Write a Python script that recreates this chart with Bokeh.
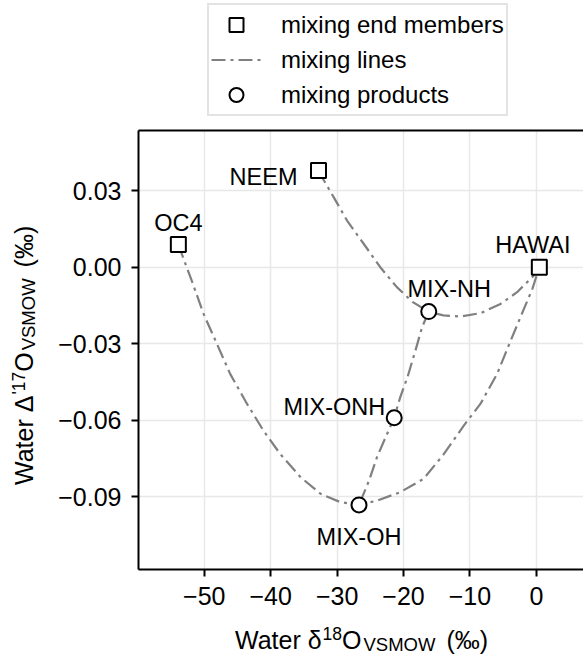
from bokeh.plotting import figure
from bokeh.models import (Range1d, FixedTicker, LinearAxis, Legend, LegendItem, Div)
from bokeh.layouts import row, column
from bokeh.core.properties import value
from bokeh.embed import file_html
from bokeh.resources import INLINE

FONT = "Liberation Sans"

# ---------------- data ----------------
end_names = ["OC4", "NEEM", "HAWAI"]
end_d18O = [-53.9, -32.8, 0.45]
end_D17O = [0.0089, 0.0379, 0.0]

mix_names = ["MIX-NH", "MIX-ONH", "MIX-OH"]
mix_d18O = [-16.2, -21.4, -26.7]
mix_D17O = [-0.0174, -0.0590, -0.0932]

# mixing line NEEM -> HAWAI (through MIX-NH)
line_nh_x = [-32.8, -32.0, -30.5, -28.5, -26.0, -23.5, -21.0, -18.6, -16.2,
             -14.0, -11.4, -8.4, -5.4, -2.9, -0.4, 0.45]
line_nh_y = [0.0379, 0.0341, 0.0274, 0.0183, 0.0092, 0.0, -0.0078, -0.0137, -0.0174,
             -0.0189, -0.0193, -0.0180, -0.0144, -0.0098, -0.0033, 0.0]

# mixing line OC4 -> HAWAI (through MIX-OH)
line_oh_x = [-53.9, -53.4, -51.9, -50.1, -48.1, -46.1, -43.6, -41.1, -38.6, -35.5,
             -32.5, -29.5, -26.7, -24.0, -20.5, -17.0, -14.0, -10.9, -8.4, -5.9,
             -3.9, -1.9, -0.6, 0.45]
line_oh_y = [0.0089, 0.0053, -0.0052, -0.0183, -0.0300, -0.0418, -0.0534, -0.0640,
             -0.0731, -0.0823, -0.0888, -0.0921, -0.0932, -0.0915, -0.0882, -0.0830,
             -0.0735, -0.0620, -0.0535, -0.0418, -0.0290, -0.0165, -0.0085, 0.0]

# mixing line MIX-NH -> MIX-OH (through MIX-ONH)
line_onh_x = [-16.2, -17.2, -18.2, -19.4, -20.5, -21.4, -22.7, -24.0, -25.2, -26.7]
line_onh_y = [-0.0174, -0.0235, -0.0326, -0.0431, -0.0510, -0.0590, -0.0667, -0.0745,
              -0.0837, -0.0932]

x_ticks = [-50, -40, -30, -20, -10, 0]
x_tick_labels = ["\u221250", "\u221240", "\u221230", "\u221220", "\u221210", "0"]
y_ticks = [0.03, 0, -0.03, -0.06, -0.09]
y_tick_labels = ["0.03", "0.00", "\u22120.03", "\u22120.06", "\u22120.09"]

legend_labels = ["mixing end members", "mixing lines", "mixing products"]

x_title = ("Water \u03b4", "18", "O", "VSMOW", "(\u2030)")
y_title = ("Water \u0394", "'17", "O", "VSMOW", "(\u2030)")

# ---------------- geometry ----------------
W, H = 583, 654
YLAB_W = 44          # width of the y-title strip
LEG_H = 128          # height of the legend strip on top
XLAB_H = 40          # height of the x-title strip at the bottom
FIG_H = H - LEG_H - XLAB_H

line_kw = dict(line_color="#808080", line_width=2.2, line_dash="14 5 3 5")
sq_kw = dict(marker="square", size=15, fill_color="white", line_color="black", line_width=2)
ci_kw = dict(marker="circle", size=15, fill_color="white", line_color="black", line_width=2)

# ---------------- main figure ----------------
p = figure(width=W - YLAB_W, height=FIG_H, output_backend="svg", toolbar_location=None,
           x_range=Range1d(-59.9, 7.1), y_range=Range1d(-0.1185, 0.0536),
           min_border_left=138 - YLAB_W, min_border_right=0, min_border_top=2,
           min_border_bottom=45, background_fill_color="white",
           border_fill_color="white", margin=0)
p.outline_line_color = None

for ax, ticks, labels in ((p.xaxis[0], x_ticks, x_tick_labels),
                          (p.yaxis[0], y_ticks, y_tick_labels)):
    ax.ticker = FixedTicker(ticks=ticks)
    ax.major_label_overrides = {t: l for t, l in zip(ticks, labels)}
    ax.axis_line_width = 2
    ax.axis_line_color = "black"
    ax.major_tick_line_width = 2
    ax.major_tick_line_color = "black"
    ax.major_tick_out = 7
    ax.major_tick_in = 0
    ax.minor_tick_line_color = None
    ax.major_label_text_font = FONT
    ax.major_label_text_font_size = "25px"
    ax.major_label_text_color = "black"
    ax.axis_label = None
p.xaxis[0].major_label_standoff = 10
p.yaxis[0].major_label_standoff = 10

top_axis = LinearAxis(ticker=FixedTicker(ticks=[]), axis_line_width=2,
                      axis_line_color="black", major_tick_line_color=None,
                      minor_tick_line_color=None, major_tick_out=0, major_tick_in=0,
                      major_label_standoff=0, major_label_text_font_size="0px")
p.add_layout(top_axis, "above")

p.xgrid.ticker = FixedTicker(ticks=x_ticks)
p.ygrid.ticker = FixedTicker(ticks=y_ticks)
for g in (p.xgrid[0], p.ygrid[0]):
    g.grid_line_color = "#e8e8e8"
    g.grid_line_width = 1.5

# mixing lines
p.line(line_nh_x, line_nh_y, **line_kw)
p.line(line_oh_x, line_oh_y, **line_kw)
p.line(line_onh_x, line_onh_y, **line_kw)

# markers
p.scatter(end_d18O, end_D17O, **sq_kw)
p.scatter(mix_d18O, mix_D17O, **ci_kw)

# point labels: (name, x, y, align, x_offset, y_offset)
label_specs = [
    (end_names[0], end_d18O[0], end_D17O[0], "center", 0, -22),
    (end_names[1], end_d18O[1], end_D17O[1], "right", -21, 6),
    (end_names[2], end_d18O[2], end_D17O[2], "center", -6.5, -22),
    (mix_names[0], mix_d18O[0], mix_D17O[0], "center", 20.5, -22.5),
    (mix_names[1], mix_d18O[1], mix_D17O[1], "right", -9, -11),
    (mix_names[2], mix_d18O[2], mix_D17O[2], "center", 0, 32),
]
for name, x, y, align, xo, yo in label_specs:
    p.text(x=[x], y=[y], text=[name], text_align=align, text_baseline="alphabetic",
           x_offset=xo, y_offset=yo, text_font=value(FONT), text_font_size="23.5px",
           text_color="black")

# ---------------- legend strip (own small figure, no axes) ----------------
lg = figure(width=W, height=LEG_H, output_backend="svg", toolbar_location=None,
            x_range=Range1d(0, 1), y_range=Range1d(0, 1), x_axis_type=None,
            y_axis_type=None, min_border=0, margin=0,
            background_fill_color="white", border_fill_color="white")
lg.outline_line_color = None
lg.xgrid.visible = False
lg.ygrid.visible = False
# legend-key renderers, placed outside the visible range so only the keys show
k_end = lg.scatter([5], [5], **sq_kw)
k_line = lg.line([5, 6], [5, 6], **line_kw)
k_mix = lg.scatter([5], [5], **ci_kw)

legend = Legend(items=[LegendItem(label=legend_labels[0], renderers=[k_end]),
                       LegendItem(label=legend_labels[1], renderers=[k_line]),
                       LegendItem(label=legend_labels[2], renderers=[k_mix])],
                location=(207, 12), orientation="vertical",
                label_text_font=FONT, label_text_font_size="24px",
                label_text_color="black",
                glyph_width=50, glyph_height=35, label_standoff=20,
                padding=2, spacing=0, margin=0,
                border_line_color="#c8c8c8", border_line_width=2,
                background_fill_color="white", background_fill_alpha=1.0)
lg.add_layout(legend)

# ---------------- axis titles as HTML text (with sup/sub) ----------------
BASE = f"font-family:'{FONT}';font-size:25px;line-height:25px;color:black;white-space:nowrap;"
SUP = "font-size:17.5px;line-height:0;vertical-align:8.5px;margin-left:1px;"
SUB = "font-size:18.5px;line-height:0;vertical-align:-2px;margin-left:2px;"
END = "margin-left:11px;"


def title_html(parts):
    a, sup, b, sub, c = parts
    return (f"{a}<span style=\"{SUP}\">{sup}</span>{b}"
            f"<span style=\"{SUB}\">{sub}</span><span style=\"{END}\">{c}</span>")


ydiv = Div(width=YLAB_W, height=FIG_H, margin=0, text=(
    f"<div style=\"position:relative;width:{YLAB_W}px;height:{FIG_H}px;\">"
    f"<span style=\"position:absolute;left:11.8px;top:{485 - LEG_H}px;"
    f"transform:rotate(-90deg);transform-origin:0 0;{BASE}\">"
    f"{title_html(y_title)}</span></div>"))

xdiv = Div(width=W, height=XLAB_H, margin=0, text=(
    f"<div style=\"position:relative;width:{W}px;height:{XLAB_H}px;\">"
    f"<span style=\"position:absolute;left:235px;top:{649 - (H - XLAB_H) - 21.2}px;{BASE}\">"
    f"{title_html(x_title)}</span></div>"))

layout = column(lg, row(ydiv, p, spacing=0, margin=0), xdiv, spacing=0, margin=0)

open("out.html", "w").write(file_html(layout, INLINE))
